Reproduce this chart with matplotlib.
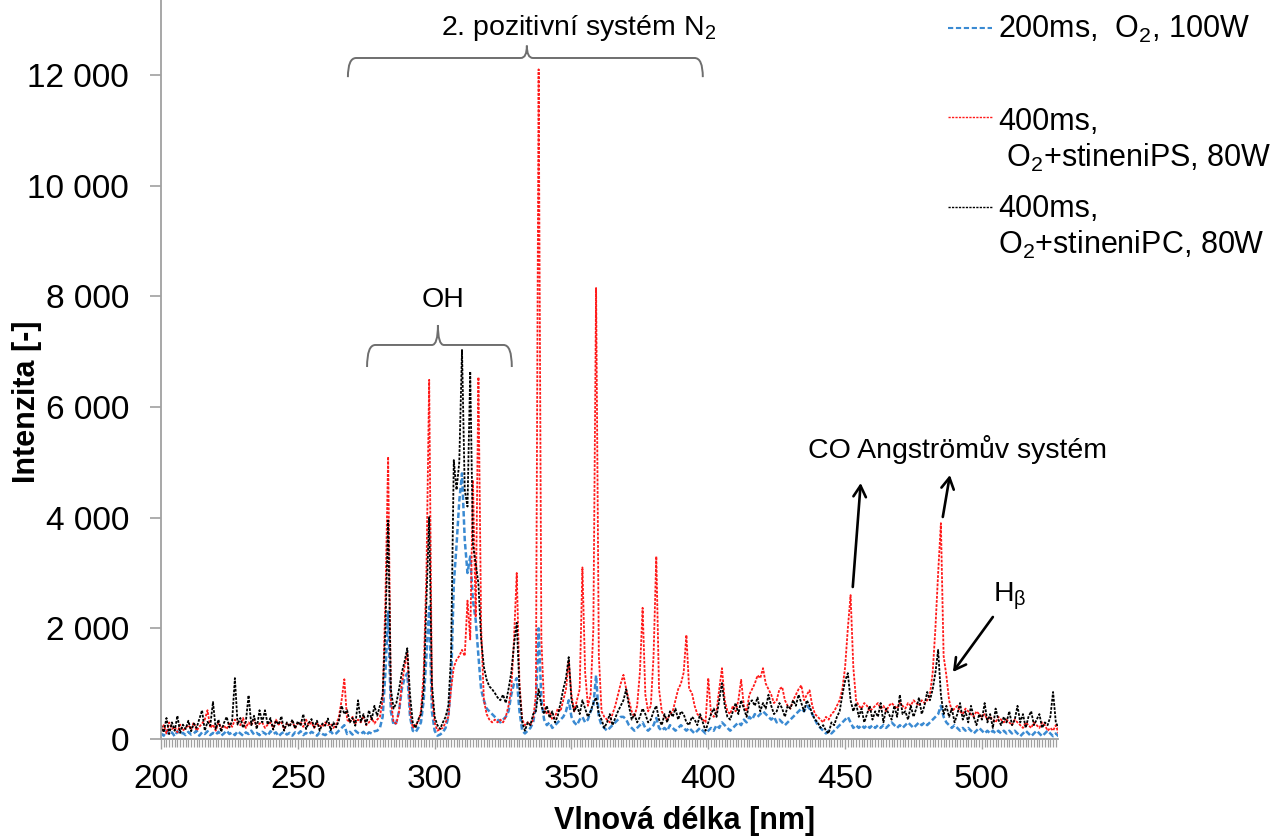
import numpy as np
import matplotlib
matplotlib.use("Agg")
import matplotlib.pyplot as plt
from matplotlib.ticker import MultipleLocator, FuncFormatter, FixedLocator
from matplotlib.lines import Line2D
from matplotlib.path import Path
from matplotlib.patches import PathPatch

plt.rcParams['font.family'] = ['Liberation Sans', 'DejaVu Sans']
plt.rcParams['mathtext.fontset'] = 'custom'
plt.rcParams['mathtext.rm'] = 'Liberation Sans'
plt.rcParams['mathtext.it'] = 'Liberation Sans:italic'
plt.rcParams['mathtext.bf'] = 'Liberation Sans:bold'

# Emission spectra, one value per nm from 200 nm to 528 nm
wl_start = 200

o2_200ms_100w = [
    100, 60, 150, 80, 120, 50, 140, 90, 110, 70,
    130, 80, 100, 150, 60, 120, 90, 140, 70, 110,
    80, 130, 60, 100, 150, 90, 120, 70, 140, 100,
    60, 120, 90, 150, 80, 110, 70, 130, 100, 60,
    140, 90, 120, 50, 100, 130, 80, 110, 60, 120,
    90, 140, 70, 110, 80, 130, 100, 60, 120, 90,
    70, 110, 140, 80, 100, 150, 200, 250, 90, 130,
    80, 150, 110, 90, 130, 70, 120, 100, 140, 150,
    200, 400, 1200, 2300, 500, 250, 300, 500, 900, 1100,
    1190, 400, 150, 120, 200, 300, 700, 1500, 2390, 500,
    150, 60, 80, 120, 200, 400, 1000, 2800, 3500, 4300,
    4800, 3600, 3000, 3300, 2500, 2150, 1500, 890, 700, 550,
    500, 450, 400, 350, 300, 350, 400, 500, 800, 1000,
    1100, 500, 150, 100, 150, 200, 300, 600, 2000, 700,
    350, 250, 300, 200, 250, 300, 350, 400, 500, 700,
    400, 300, 250, 350, 400, 300, 350, 500, 600, 1150,
    400, 250, 200, 150, 200, 250, 300, 350, 400, 400,
    350, 250, 200, 150, 200, 250, 300, 200, 150, 200,
    250, 380, 200, 150, 200, 150, 250, 200, 150, 200,
    250, 200, 150, 200, 150, 100, 150, 200, 150, 100,
    150, 200, 150, 250, 200, 300, 250, 200, 150, 200,
    250, 300, 250, 350, 300, 400, 350, 450, 400, 450,
    500, 450, 400, 350, 400, 300, 350, 300, 250, 300,
    350, 400, 450, 500, 550, 500, 600, 550, 450, 350,
    250, 200, 150, 100, 150, 100, 150, 200, 250, 300,
    350, 400, 300, 200, 250, 200, 250, 200, 250, 200,
    250, 200, 250, 200, 250, 200, 250, 300, 250, 200,
    250, 200, 250, 300, 250, 200, 250, 300, 250, 300,
    250, 300, 350, 400, 450, 600, 400, 300, 250, 200,
    250, 200, 150, 200, 150, 200, 150, 100, 150, 200,
    150, 100, 150, 100, 150, 100, 150, 100, 150, 100,
    150, 100, 150, 100, 50, 100, 150, 100, 50, 100,
    150, 100, 50, 100, 150, 100, 50, 100, 50,
]

o2_ps_400ms_80w = [
    150, 250, 100, 300, 180, 220, 120, 260, 150, 200,
    250, 180, 300, 150, 220, 280, 350, 520, 200, 260,
    150, 300, 200, 240, 180, 280, 220, 350, 300, 250,
    380, 200, 300, 250, 350, 220, 280, 300, 200, 260,
    300, 200, 350, 260, 300, 180, 280, 250, 320, 200,
    280, 300, 220, 350, 250, 300, 200, 280, 240, 220,
    300, 250, 280, 200, 260, 400, 700, 1080, 350, 300,
    400, 280, 350, 300, 420, 250, 300, 380, 280, 350,
    400, 700, 2500, 5100, 700, 300, 280, 500, 1000, 1300,
    1560, 500, 200, 250, 300, 500, 1200, 3000, 6490, 800,
    300, 150, 180, 200, 300, 400, 900, 1300, 1430, 1500,
    1610, 1500, 2500, 1800, 4680, 2200, 6540, 2000, 700, 450,
    350, 300, 350, 300, 350, 300, 400, 600, 900, 1800,
    3000, 1000, 350, 250, 300, 250, 350, 800, 12100, 1800,
    600, 450, 500, 350, 400, 550, 500, 700, 900, 1410,
    800, 500, 700, 900, 3100, 1200, 600, 800, 2000, 8150,
    1500, 500, 400, 350, 300, 450, 600, 800, 1000, 1160,
    900, 700, 500, 400, 600, 1200, 2370, 800, 500, 600,
    1500, 3300, 900, 500, 400, 350, 450, 500, 700, 900,
    1000, 1200, 1880, 900, 840, 600, 450, 400, 350, 300,
    1100, 450, 400, 500, 900, 1280, 700, 500, 450, 600,
    500, 700, 1070, 600, 500, 800, 900, 1000, 1150, 1100,
    1280, 1000, 900, 800, 650, 700, 900, 940, 700, 600,
    550, 700, 800, 900, 970, 700, 800, 880, 600, 450,
    400, 350, 300, 400, 350, 450, 500, 600, 700, 900,
    1300, 2000, 2600, 1300, 700, 600, 550, 650, 600, 500,
    550, 600, 650, 550, 600, 500, 600, 650, 600, 550,
    650, 600, 550, 650, 600, 700, 650, 600, 700, 650,
    700, 800, 1200, 2000, 3000, 3900, 1500, 1150, 700, 500,
    550, 600, 500, 450, 550, 500, 450, 400, 500, 450,
    400, 450, 350, 400, 350, 300, 400, 350, 300, 350,
    300, 250, 350, 300, 250, 200, 300, 250, 200, 300,
    250, 200, 300, 250, 150, 200, 150, 250, 100,
]

o2_pc_400ms_80w = [
    250, 120, 380, 90, 300, 150, 420, 110, 260, 180,
    330, 140, 280, 200, 360, 520, 150, 310, 240, 670,
    180, 350, 130, 290, 400, 210, 330, 1100, 260, 380,
    200, 310, 790, 250, 420, 180, 520, 300, 520, 260,
    380, 170, 330, 260, 410, 150, 300, 220, 350, 190,
    320, 240, 450, 180, 290, 360, 210, 330, 150, 280,
    240, 370, 160, 300, 210, 330, 600, 450, 520, 300,
    380, 240, 700, 310, 450, 260, 520, 350, 600, 420,
    600, 800, 2000, 3950, 900, 550, 650, 900, 1200, 1400,
    1640, 800, 300, 200, 350, 450, 900, 2500, 4010, 1000,
    400, 250, 180, 300, 400, 600, 1500, 5040, 4500, 5000,
    7030, 4500, 4200, 6640, 3500, 3180, 2800, 1790, 1300, 1070,
    950, 900, 830, 750, 700, 800, 650, 900, 1200, 1700,
    2100, 900, 300, 150, 300, 250, 450, 500, 900, 600,
    450, 600, 380, 500, 300, 420, 650, 900, 1100, 1480,
    700, 500, 600, 450, 700, 550, 400, 500, 650, 750,
    450, 350, 200, 300, 450, 250, 380, 500, 600, 700,
    900, 600, 350, 450, 300, 400, 550, 450, 300, 350,
    500, 600, 350, 250, 450, 300, 500, 400, 550, 350,
    500, 450, 300, 250, 400, 350, 250, 450, 300, 150,
    300, 450, 550, 400, 700, 1010, 600, 400, 350, 500,
    650, 450, 700, 550, 400, 650, 700, 600, 750, 500,
    650, 550, 800, 600, 450, 500, 650, 550, 400, 600,
    550, 700, 600, 800, 650, 500, 700, 600, 450, 350,
    300, 200, 250, 150, 100, 300, 250, 400, 500, 800,
    1050, 1190, 700, 500, 650, 400, 550, 300, 450, 600,
    350, 500, 400, 650, 300, 550, 450, 350, 600, 400,
    800, 450, 500, 350, 600, 400, 550, 750, 450, 600,
    850, 700, 900, 1200, 1610, 800, 450, 600, 400, 550,
    300, 450, 650, 350, 500, 300, 600, 400, 250, 450,
    350, 650, 300, 450, 200, 550, 350, 250, 400, 300,
    500, 250, 350, 600, 300, 450, 200, 400, 500, 250,
    350, 450, 200, 300, 250, 400, 850, 300, 200,
]

x_ticks = [200, 250, 300, 350, 400, 450, 500]
y_ticks = [0, 2000, 4000, 6000, 8000, 10000, 12000]

series_labels = [
    "200ms,  O$_2$, 100W",
    "400ms,\n O$_2$+stineniPS, 80W",
    "400ms,\nO$_2$+stineniPC, 80W",
]

wavelength = wl_start + np.arange(len(o2_200ms_100w))

fig = plt.figure(figsize=(12.81, 8.36), dpi=100)
ax = fig.add_axes([161 / 1281, 1 - 739 / 836, 897 / 1281, 739 / 836])

blue = '#3a8ad2'
red = '#ff1a1a'
black = '#000000'

ax.plot(wavelength, o2_200ms_100w, color=blue, lw=1.8, dashes=(2.2, 1.1))
ax.plot(wavelength, o2_ps_400ms_80w, color=red, lw=1.3, dashes=(1.5, 0.8))
ax.plot(wavelength, o2_pc_400ms_80w, color=black, lw=1.3, dashes=(1.5, 0.8))

ax.set_xlim(200, 527.8)
ax.set_ylim(0, 13354)

grey = '#a0a0a0'
for side in ('top', 'right'):
    ax.spines[side].set_visible(False)
for side in ('left', 'bottom'):
    ax.spines[side].set_color(grey)
    ax.spines[side].set_linewidth(1.3)

ax.xaxis.set_major_locator(FixedLocator(x_ticks))
ax.xaxis.set_minor_locator(MultipleLocator(1))
ax.yaxis.set_major_locator(FixedLocator(y_ticks))
ax.yaxis.set_major_formatter(FuncFormatter(lambda v, p: f"{int(v):,}".replace(",", " ")))

ax.tick_params(axis='x', which='major', direction='out', length=7, width=1.0,
               color=grey, labelsize=24, pad=11)
ax.tick_params(axis='x', which='minor', direction='out', length=5.5, width=0.9,
               color=grey)
ax.tick_params(axis='y', which='major', direction='out', length=8, width=1.2,
               color=grey, labelsize=24, pad=15)

ax.set_xlabel("Vlnová délka [nm]", fontsize=22, fontweight='bold')
ax.set_ylabel("Intenzita [-]", fontsize=22, fontweight='bold')
ax.xaxis.set_label_coords(0.584, -0.090)
ax.yaxis.set_label_coords(-0.133, 0.456)


def curly_brace(x0, x1, xm, y_end, y_mid, y_tip, dx_end, dx_tip):
    verts = [
        (x0, y_end), (x0, y_mid), (x0 + dx_end, y_mid),
        (xm - dx_tip, y_mid),
        (xm, y_mid), (xm, y_tip),
        (xm, y_mid), (xm + dx_tip, y_mid),
        (x1 - dx_end, y_mid),
        (x1, y_mid), (x1, y_end),
    ]
    codes = [
        Path.MOVETO, Path.CURVE3, Path.CURVE3,
        Path.LINETO,
        Path.CURVE3, Path.CURVE3,
        Path.CURVE3, Path.CURVE3,
        Path.LINETO,
        Path.CURVE3, Path.CURVE3,
    ]
    ax.add_patch(PathPatch(Path(verts, codes), fill=False, edgecolor='#6e6e6e',
                           lw=1.4, clip_on=False))


# N2 second positive system
curly_brace(268.3, 398.0, 333.7, 11960, 12306, 12530, 3.0, 2.2)
ax.text(352.7, 12721, "2. pozitivní systém N$_2$", fontsize=20.5,
        ha='center', va='baseline')

# OH band
curly_brace(275.3, 328.2, 301.2, 6722, 7120, 7481, 3.0, 2.2)
ax.text(303.0, 7806, "OH", fontsize=20.5, ha='center', va='baseline')

# CO Angström system and H-beta
ax.text(491.2, 5078, "CO Angströmův systém", fontsize=20.5, ha='center', va='baseline')
ax.text(504.0, 2476, "H$_\\mathrm{β}$", fontsize=20.5, ha='left', va='baseline')

arrow = dict(arrowstyle='->,head_length=0.8,head_width=0.45', lw=1.9,
             color='black', shrinkA=0, shrinkB=0)
ax.annotate('', xy=(455.7, 4626), xytext=(452.8, 2747), arrowprops=arrow)
ax.annotate('', xy=(488.3, 4770), xytext=(485.7, 4012), arrowprops=arrow)
ax.annotate('', xy=(489.4, 1211), xytext=(504.0, 2205), arrowprops=arrow)

# Legend: sample line next to the first text line of each entry
W, H = 1281, 836
legend_rows = [
    (blue, 1.5, (2.5, 1.3), 28, 38),
    (red, 1.0, (1.6, 0.9), 117, 130),
    (black, 1.0, (1.6, 0.9), 207, 217),
]
line_gap = 37
for (col, lw, dsh, ly, tb), label in zip(legend_rows, series_labels):
    fig.add_artist(Line2D([948 / W, 992 / W], [1 - ly / H, 1 - ly / H],
                          color=col, lw=lw, dashes=dsh, transform=fig.transFigure))
    for k, part in enumerate(label.split("\n")):
        fig.text(998 / W, 1 - (tb + k * line_gap) / H, part, fontsize=22,
                 ha='left', va='baseline')

fig.savefig("out.png", dpi=100)
